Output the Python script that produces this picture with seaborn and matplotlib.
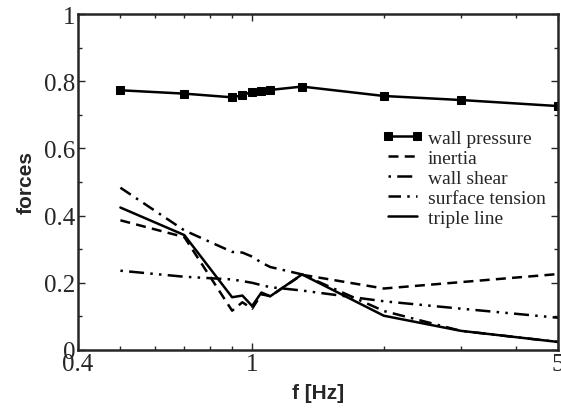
import matplotlib
matplotlib.use("Agg")
import matplotlib.pyplot as plt
import matplotlib.ticker as mticker
import seaborn as sns
import numpy as np

freq = [0.5, 0.7, 0.9, 0.95, 1.0, 1.05, 1.1, 1.3, 2.0, 3.0, 5.0]
wall_pressure = [0.773, 0.763, 0.752, 0.758, 0.769, 0.772, 0.774, 0.784, 0.756, 0.744, 0.726]
inertia = [0.386, 0.336, 0.117, 0.142, 0.123, 0.166, 0.160, 0.224, 0.183, 0.202, 0.226]
wall_shear = [0.236, 0.218, 0.210, 0.205, 0.200, 0.193, 0.187, 0.177, 0.145, 0.123, 0.096]
surface_tension = [0.483, 0.356, 0.292, 0.290, 0.278, 0.260, 0.247, 0.225, 0.116, 0.057, 0.024]
triple_line = [0.424, 0.342, 0.157, 0.162, 0.131, 0.171, 0.160, 0.225, 0.102, 0.057, 0.024]

xticks = [0.4, 1, 5]
xticklabels = ["0.4", "1", "5"]
yticks = [0, 0.2, 0.4, 0.6, 0.8, 1]
yticklabels = ["0", "0.2", "0.4", "0.6", "0.8", "1"]

sns.set_style("ticks")
plt.rcParams["font.family"] = ["Liberation Serif", "DejaVu Serif"]

fig = plt.figure(figsize=(5.61, 4.10), dpi=100)
ax = fig.add_axes([78 / 561, 1 - 351 / 410, 480 / 561, 336 / 410])

lw = 1.8
series = [
    ("wall pressure", wall_pressure, "-", "s"),
    ("inertia", inertia, (0, (4, 2.5)), None),
    ("wall shear", wall_shear, (0, (1, 2.5, 6, 2.5, 1, 2.5)), None),
    ("surface tension", surface_tension, (0, (5, 2.5, 1, 2.5)), None),
    ("triple line", triple_line, "-", None),
]
for name, vals, ls, mk in series:
    sns.lineplot(x=freq, y=vals, ax=ax, color="black", linewidth=lw,
                 linestyle=ls, marker=mk, markersize=5.5 if mk else 0,
                 markeredgecolor="black", markerfacecolor="black", label=name)

ax.set_xscale("log")
ax.set_xlim(0.4, 5)
ax.set_ylim(0, 1)
ax.set_xticks(xticks)
ax.set_xticklabels(xticklabels)
ax.xaxis.set_minor_locator(mticker.FixedLocator([0.5, 0.6, 0.7, 0.8, 0.9, 2, 3, 4]))
ax.xaxis.set_minor_formatter(mticker.NullFormatter())
ax.set_yticks(yticks)
ax.set_yticklabels(yticklabels)
ax.yaxis.set_minor_locator(mticker.MultipleLocator(0.1))

ax.tick_params(which="both", direction="in", top=True, right=True, width=1.0)
ax.tick_params(which="major", length=5, labelsize=18, pad=2)
ax.tick_params(which="minor", length=3)
for s in ax.spines.values():
    s.set_linewidth(1.8)
    s.set_visible(True)

ax.set_xlabel("f [Hz]", fontsize=15, fontweight="bold", family=["Liberation Sans", "DejaVu Sans"], labelpad=6)
ax.set_ylabel("forces", fontsize=15, fontweight="bold", family=["Liberation Sans", "DejaVu Sans"], labelpad=6)

leg = ax.legend(loc="upper left", bbox_to_anchor=(0.633, 0.656), frameon=False,
                prop={"family": "Liberation Serif", "size": 14}, handlelength=2.1,
                numpoints=2, handletextpad=0.26, labelspacing=0.12, borderaxespad=0,
                borderpad=0)

fig.savefig("out.png", dpi=100)
